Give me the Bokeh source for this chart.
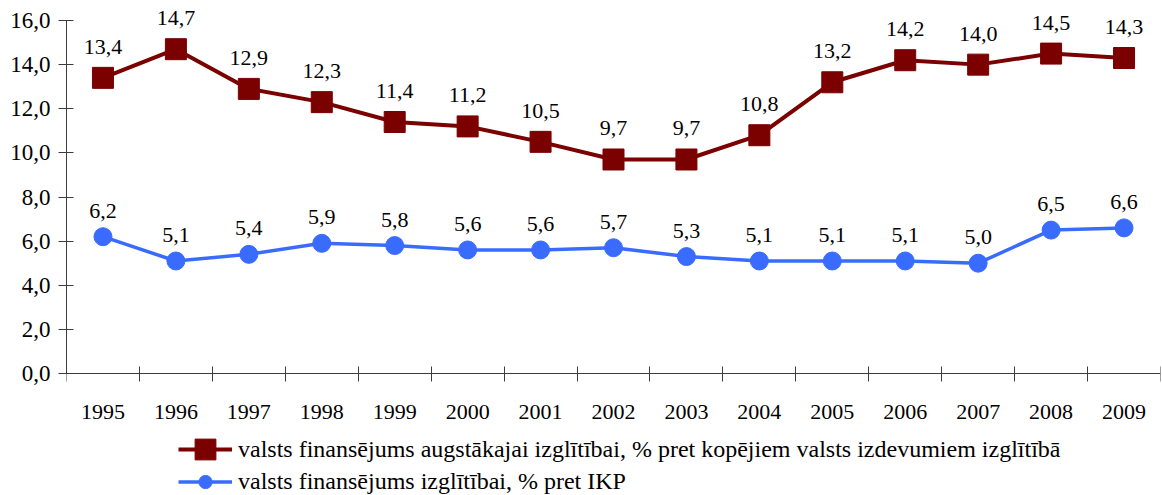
from bokeh.plotting import figure
from bokeh.models import ColumnDataSource, FixedTicker, LabelSet, Legend, LegendItem, Range1d
from bokeh.embed import file_html
from bokeh.resources import INLINE

years = ["1995", "1996", "1997", "1998", "1999", "2000", "2001", "2002",
         "2003", "2004", "2005", "2006", "2007", "2008", "2009"]
higher_ed_share = [13.4, 14.7, 12.9, 12.3, 11.4, 11.2, 10.5, 9.7, 9.7, 10.8, 13.2, 14.2, 14.0, 14.5, 14.3]
edu_gdp_share = [6.2, 5.1, 5.4, 5.9, 5.8, 5.6, 5.6, 5.7, 5.3, 5.1, 5.1, 5.1, 5.0, 6.5, 6.6]
y_ticks = [0, 2, 4, 6, 8, 10, 12, 14, 16]

name_red = "valsts finansējums augstākajai izglītībai, % pret kopējiem valsts izdevumiem izglītībā"
name_blue = "valsts finansējums izglītībai, % pret IKP"

RED = "#7B0000"
BLUE = "#3A6BFF"
AXIS = "#3C3C3C"
FONT = "'Liberation Serif', 'Times New Roman', serif"

# layout: value axis 0..16 spans pixels 373..20; the frame also covers the legend area
PX_PER_UNIT = (373 - 20) / 16.0
Y_LO = -(495 - 373) / PX_PER_UNIT
Y_HI = 16 + 20 / PX_PER_UNIT


def fmt(v):
    return f"{v:.1f}".replace(".", ",")


x = [i + 0.5 for i in range(len(years))]
src = ColumnDataSource(dict(
    x=x,
    red=higher_ed_share,
    blue=edu_gdp_share,
    red_lbl=[fmt(v) for v in higher_ed_share],
    blue_lbl=[fmt(v) for v in edu_gdp_share],
))

p = figure(width=1162, height=495, x_range=Range1d(0, len(years)), y_range=Range1d(Y_LO, Y_HI),
           output_backend="svg", toolbar_location=None,
           min_border_left=66, min_border_right=2, min_border_top=0, min_border_bottom=0)
p.outline_line_color = None
p.grid.visible = False
p.background_fill_color = "white"

xa = p.xaxis[0]
xa.fixed_location = 0
xa.ticker = FixedTicker(ticks=x, minor_ticks=list(range(len(years) + 1)))
xa.major_label_overrides = {xi: yr for xi, yr in zip(x, years)}
xa.major_tick_in = 0
xa.major_tick_out = 0
xa.minor_tick_in = 7
xa.minor_tick_out = 8
xa.minor_tick_line_color = AXIS
xa.axis_line_color = AXIS
xa.major_label_standoff = 23
xa.major_label_text_font = FONT
xa.major_label_text_font_size = "22px"
xa.major_label_text_color = "black"

ya = p.yaxis[0]
ya.bounds = (0, 16)
ya.ticker = FixedTicker(ticks=y_ticks, minor_ticks=[])
ya.major_label_overrides = {t: fmt(t) for t in y_ticks}
ya.major_tick_in = 7
ya.major_tick_out = 8
ya.major_tick_line_color = AXIS
ya.axis_line_color = AXIS
ya.major_label_standoff = 8
ya.major_label_text_font = FONT
ya.major_label_text_font_size = "23px"
ya.major_label_text_color = "black"

red_line = p.line("x", "red", source=src, line_color=RED, line_width=4)
red_pts = p.scatter("x", "red", source=src, marker="square", size=21, fill_color=RED, line_color=RED)
blue_line = p.line("x", "blue", source=src, line_color=BLUE, line_width=3.5)
blue_pts = p.scatter("x", "blue", source=src, marker="circle", size=18, fill_color=BLUE, line_color=BLUE)

p.add_layout(LabelSet(x="x", y="red", text="red_lbl", source=src, y_offset=31,
                      text_align="center", text_baseline="middle",
                      text_font=FONT, text_font_size="22px", text_color="black"))
p.add_layout(LabelSet(x="x", y="blue", text="blue_lbl", source=src, y_offset=26,
                      text_align="center", text_baseline="middle",
                      text_font=FONT, text_font_size="22px", text_color="black"))

common = dict(glyph_width=54, label_standoff=6, padding=0, margin=0, spacing=0,
              border_line_color=None, background_fill_alpha=0,
              label_text_font=FONT, label_text_font_size="24px", label_text_color="black",
              label_text_baseline="middle")
leg_red = Legend(items=[LegendItem(label=name_red, renderers=[red_line, red_pts])],
                 location=(112, 20), glyph_height=52, **common)
leg_blue = Legend(items=[LegendItem(label=name_blue, renderers=[blue_line, blue_pts])],
                  location=(112, -3), glyph_height=33, **common)
p.add_layout(leg_red)
p.add_layout(leg_blue)

open("out.html", "w").write(file_html(p, INLINE))
